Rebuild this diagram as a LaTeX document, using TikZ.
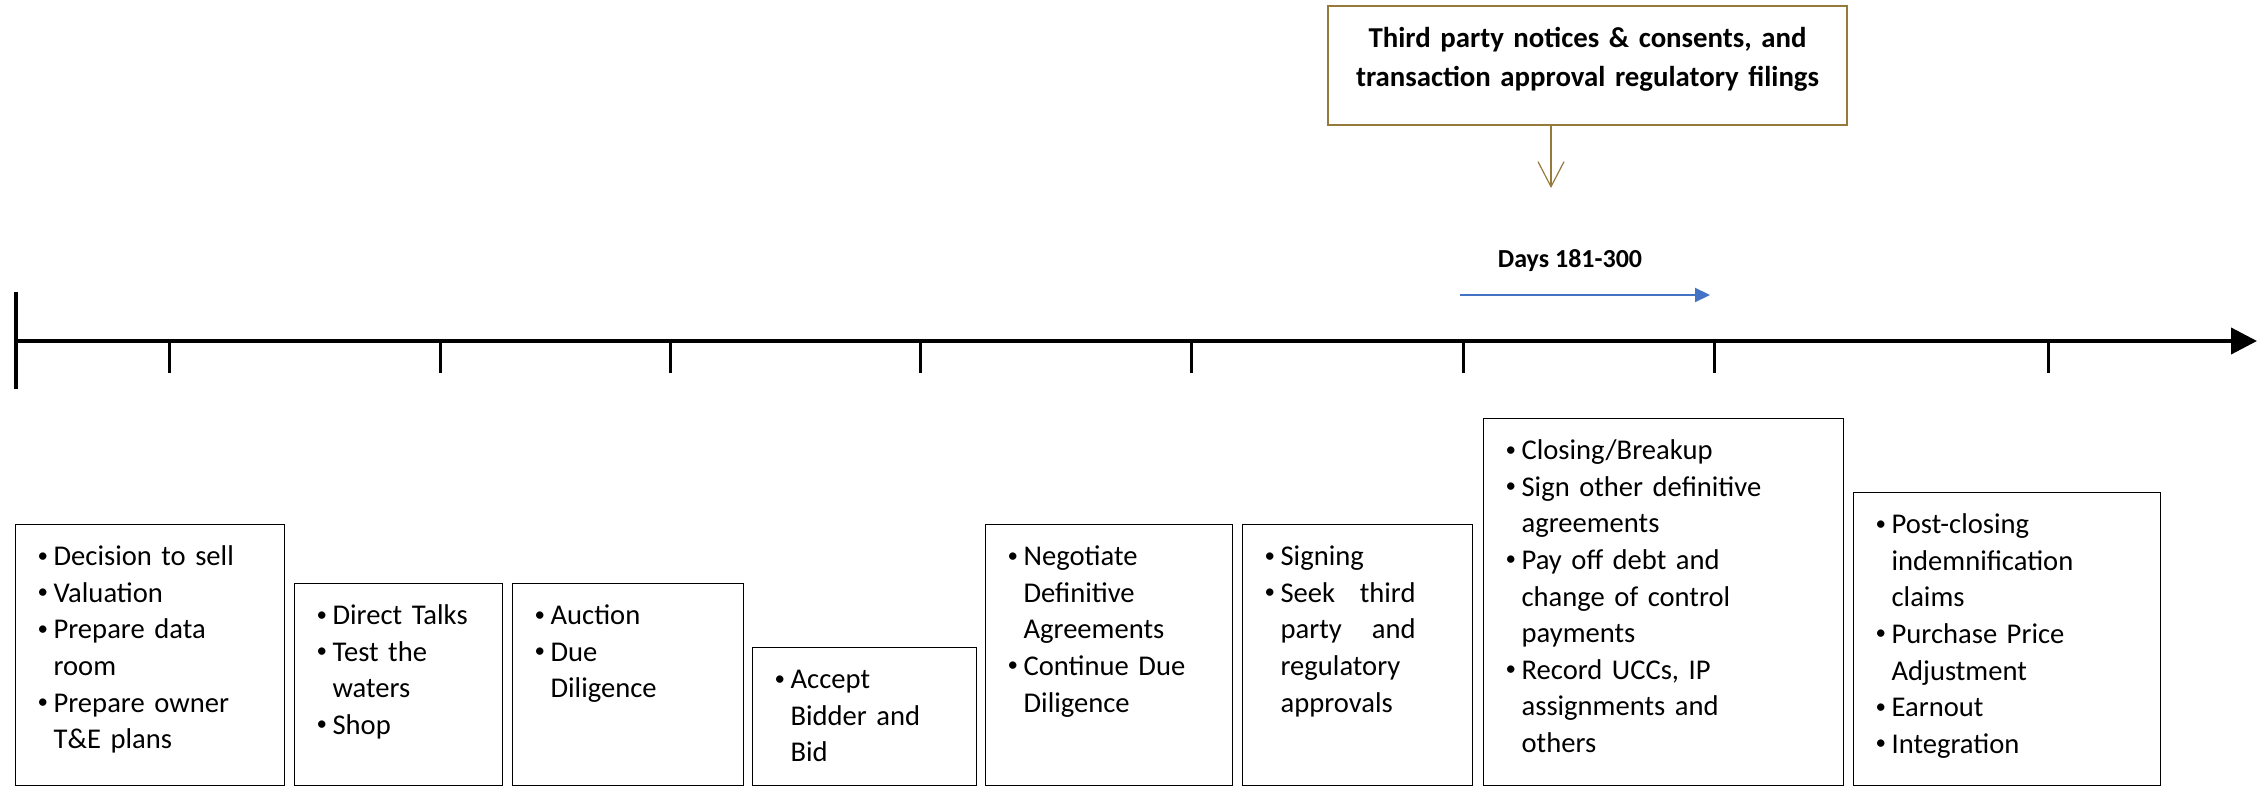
\documentclass[tikz,border=0pt]{standalone}
\usepackage{fontspec}
\setmainfont{Carlito}
\usetikzlibrary{arrows.meta, positioning}

\definecolor{goldline}{RGB}{150,122,60}
\definecolor{dayblue}{RGB}{68,114,196}
\newcommand{\bul}{\makebox[8pt][l]{\raisebox{1.8pt}{\fontsize{10.5}{10.5}\selectfont\textbullet}}}
\newcommand{\ind}{\hspace*{8pt}}

\begin{document}
\begin{tikzpicture}[
    x=0.5pt, y=-0.5pt,
    stage/.style   ={draw, line width=0.6pt, anchor=north west, align=left,
                     inner xsep=11pt, inner ysep=0pt, text height=20.5pt,
                     font=\fontsize{14.3}{18.3}\selectfont},
    notice/.style  ={draw=goldline, line width=1.2pt, anchor=north, align=center,
                     inner xsep=4pt, inner ysep=0pt, text height=20.5pt,
                     font=\fontsize{14.4}{19.8}\selectfont\bfseries},
    timeline/.style={line width=2pt},
    tickmark/.style={line width=1.5pt},
]
\useasboundingbox (0,0) rectangle (2264,786);

% time axis
\coordinate (t0) at (16,341);
\coordinate (tend) at (2257,341);
\draw[timeline, -{Triangle[length=13pt, width=13pt]}] (t0) -- (tend);
\draw[timeline] ([yshift=24.5pt]t0) -- ([yshift=-24pt]t0);
\foreach \x in {169,440,670,920,1191,1463,1714,2048}
  \draw[tickmark] (\x,341) -- (\x,373);

% filings box and its pointer
\node[notice, text width=251.5pt, text depth=39pt] (notice) at (1587.5,5)
  {Third party notices \& consents, and\\transaction approval regulatory filings};
\coordinate (hit) at (1551,188);
\draw[goldline, line width=0.6pt, -{Straight Barb[length=12.5pt, width=13pt]}]
  (notice.south -| hit) -- (hit);

% days marker
\node[anchor=base, font=\fontsize{13}{15}\selectfont\bfseries] (days) at (1570,268) {Days 181-300};
\coordinate (d0) at (1460,295);
\coordinate (d1) at (1710,295);
\draw[dayblue, line width=1pt, -{Triangle[length=7.5pt, width=7pt]}] (d0) -- (d1);

% stages
\node[stage, text width=112.5pt, text depth=110pt] (decide) at (15,524)
  {\bul Decision to sell\\\bul Valuation\\\bul Prepare data\\\ind room\\\bul Prepare owner\\\ind T\&E plans};
\node[stage, text width=82pt, text depth=80.5pt] (talks) at (294,583)
  {\bul Direct Talks\\\bul Test the\\\ind waters\\\bul Shop};
\node[stage, text width=93.5pt, text depth=80.5pt] (auction) at (512,583)
  {\bul Auction\\\bul Due\\\ind Diligence};
\node[stage, text width=90pt, text depth=48.5pt] (accept) at (752,647)
  {\bul Accept\\\ind Bidder and\\\ind Bid};
\node[stage, text width=101.5pt, text depth=110pt] (negotiate) at (985,524)
  {\bul Negotiate\\\ind Definitive\\\ind Agreements\\\bul Continue Due\\\ind Diligence};
\node[stage, text width=93pt, text depth=110pt] (signing) at (1242,524)
  {\bul Signing\\\bul \makebox[67.5pt]{Seek\hfill third}\\\ind \makebox[67.5pt]{party\hfill and}\\\ind regulatory\\\ind approvals};
\node[stage, text width=158pt, text depth=163pt] (closing) at (1483,418)
  {\bul Closing/Breakup\\\bul Sign other definitive\\\ind agreements\\\bul Pay off debt and\\\ind change of control\\\ind payments\\\bul Record UCCs, IP\\\ind assignments and\\\ind others};
\node[stage, text width=131.5pt, text depth=126pt] (postclose) at (1853,492)
  {\bul Post-closing\\\ind indemnification\\\ind claims\\\bul Purchase Price\\\ind Adjustment\\\bul Earnout\\\bul Integration};
\end{tikzpicture}
\end{document}
